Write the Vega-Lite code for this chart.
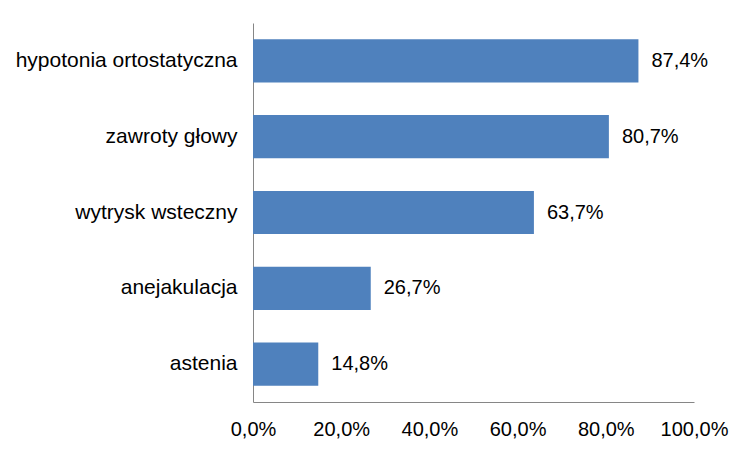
{
  "$schema": "https://vega.github.io/schema/vega-lite/v6.json",
  "width": 441,
  "height": 379,
  "autosize": {"type": "none"},
  "padding": {"left": 253, "top": 23, "right": 59, "bottom": 49},
  "background": "white",
  "config": {
    "locale": {"number": {"decimal": ",", "thousands": " ", "grouping": [3], "currency": ["", " zł"]}},
    "view": {"stroke": null},
    "font": "Liberation Sans"
  },
  "data": {
    "values": [
      {"objaw": "hypotonia ortostatyczna", "wartosc": 0.874},
      {"objaw": "zawroty głowy", "wartosc": 0.807},
      {"objaw": "wytrysk wsteczny", "wartosc": 0.637},
      {"objaw": "anejakulacja", "wartosc": 0.267},
      {"objaw": "astenia", "wartosc": 0.148}
    ]
  },
  "encoding": {
    "y": {
      "field": "objaw", "type": "nominal", "sort": null,
      "scale": {"paddingInner": 0.43, "paddingOuter": 0.215},
      "axis": {"title": null, "ticks": false, "labelPadding": 16, "labelFontSize": 21, "labelColor": "black", "labelFont": "Liberation Sans", "domainColor": "#868686", "labelLimit": 300}
    },
    "x": {
      "field": "wartosc", "type": "quantitative",
      "scale": {"domain": [0, 1], "nice": false},
      "axis": {"title": null, "values": [0, 0.2, 0.4, 0.6, 0.8, 1], "format": ".1%", "ticks": false, "grid": false, "labelPadding": 17, "labelFontSize": 20, "labelColor": "black", "labelFont": "Liberation Sans", "domainColor": "#868686", "labelFlush": false}
    }
  },
  "layer": [
    {"mark": {"type": "bar", "color": "#4F81BD"}},
    {"mark": {"type": "text", "align": "left", "dx": 13, "fontSize": 20, "font": "Liberation Sans", "color": "black"},
     "encoding": {"text": {"field": "wartosc", "type": "quantitative", "format": ".1%"}}}
  ]
}
